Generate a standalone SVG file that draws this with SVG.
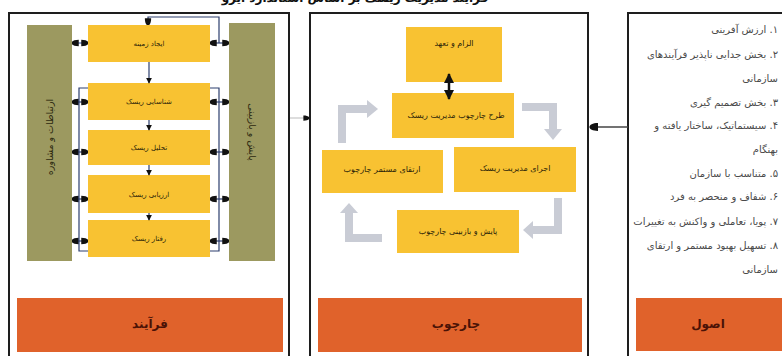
<svg xmlns="http://www.w3.org/2000/svg" width="782" height="356" viewBox="0 0 782 356">
<style>
text{font-family:"DejaVu Sans","Noto Sans",sans-serif;}
.panel{fill:#fff;stroke:#1e1e1e;stroke-width:2;}
.ybox{fill:#F8C232;}
.olive{fill:#9C9960;}
.orange{fill:#E0622B;}
.bt{font-size:7px;fill:#2a2208;text-anchor:middle;}
.mt{font-size:8px;fill:#2a2208;text-anchor:middle;}
.side{font-size:9.5px;fill:#2e2a10;text-anchor:middle;}
.foot{font-size:12px;font-weight:bold;fill:#4a1206;text-anchor:middle;}
.pr{font-size:10px;fill:#4a4a4a;text-anchor:start;}
.cn{fill:none;stroke:#2c3e6e;stroke-width:1.2;}
.gray{fill:none;stroke:#C9CCD5;stroke-width:8;}
.gh{fill:#C9CCD5;}
</style>
<defs>
<marker id="h" viewBox="0 0 8 8" refX="7.5" refY="4" markerWidth="6" markerHeight="6" orient="auto-start-reverse">
<path d="M0,0.5 C5,0.5 8,2 8,4 C8,6 5,7.5 0,7.5 Z" fill="#111"/>
</marker>
<marker id="sq" viewBox="0 0 8 8" refX="7" refY="4" markerWidth="5" markerHeight="5" orient="auto">
<path d="M0,0 L8,4 L0,8 Z" fill="#111"/>
</marker>
<marker id="ah" viewBox="0 0 10 10" refX="9" refY="5" markerWidth="4" markerHeight="4" orient="auto-start-reverse">
<path d="M0,0 L10,5 L0,10 Z" fill="#111"/>
</marker>
</defs>
<rect width="782" height="356" fill="#fff"/>
<text x="355" y="1.5" direction="rtl" style="font-size:12px;font-weight:bold;fill:#111;text-anchor:middle">فرآیند مدیریت ریسک بر اساس استاندارد ایزو</text>

<!-- Panels -->
<g id="panel-process">
<rect class="panel" x="9" y="13" width="280" height="346"/>
<rect class="orange" x="17" y="298" width="266" height="54"/>
<text class="foot" x="150" y="328" direction="rtl">فرآیند</text>
</g>
<g id="panel-framework">
<rect class="panel" x="310" y="13" width="278" height="346"/>
<rect class="orange" x="318" y="298" width="264" height="54"/>
<text class="foot" x="456" y="328" direction="rtl">چارچوب</text>
</g>
<g id="panel-principles">
<rect class="panel" x="628" y="13" width="170" height="346"/>
<rect class="orange" x="636" y="298" width="150" height="53"/>
<text class="foot" x="708" y="328" direction="rtl">اصول</text>
<g direction="rtl">
<text class="pr" x="778" y="33">۱. ارزش آفرینی</text>
<text class="pr" x="778" y="58">۲. بخش جدایی ناپذیر فرآیندهای</text>
<text class="pr" x="778" y="82">سازمانی</text>
<text class="pr" x="778" y="106">۳. بخش تصمیم گیری</text>
<text class="pr" x="778" y="129">۴. سیستماتیک، ساختار یافته و</text>
<text class="pr" x="778" y="153">بهنگام</text>
<text class="pr" x="778" y="177">۵. متناسب با سازمان</text>
<text class="pr" x="778" y="200">۶. شفاف و منحصر به فرد</text>
<text class="pr" x="778" y="225">۷. پویا، تعاملی و واکنش به تغییرات</text>
<text class="pr" x="778" y="249">۸. تسهیل بهبود مستمر و ارتقای</text>
<text class="pr" x="778" y="273">سازمانی</text>
</g>
</g>

<!-- Process nodes -->
<g id="comm">
<rect class="olive" x="27" y="25" width="45" height="236"/>
<text class="side" transform="translate(53,137) rotate(-90)" direction="rtl">ارتباطات و مشاوره</text>
</g>
<g id="monitor">
<rect class="olive" x="229" y="23" width="46" height="238"/>
<text class="side" transform="translate(249,132) rotate(90)" direction="rtl">پایش و بازبینی</text>
</g>
<g id="context">
<rect class="ybox" x="88" y="25" width="122" height="37"/>
<text class="bt" x="149" y="46" direction="rtl">ایجاد زمینه</text>
</g>
<g id="identify">
<rect class="ybox" x="88" y="83" width="122" height="37"/>
<text class="bt" x="149" y="104" direction="rtl">شناسایی ریسک</text>
</g>
<g id="analyse">
<rect class="ybox" x="88" y="130" width="122" height="35"/>
<text class="bt" x="149" y="150" direction="rtl">تحلیل ریسک</text>
</g>
<g id="evaluate">
<rect class="ybox" x="88" y="175" width="122" height="38"/>
<text class="bt" x="149" y="197" direction="rtl">ارزیابی ریسک</text>
</g>
<g id="treat">
<rect class="ybox" x="88" y="220" width="122" height="37"/>
<text class="bt" x="149" y="241" direction="rtl">رفتار ریسک</text>
</g>

<!-- Framework nodes -->
<g id="mandate">
<rect class="ybox" x="406" y="27" width="96" height="55"/>
<text class="mt" x="454" y="46" direction="rtl">الزام و تعهد</text>
</g>
<g id="design">
<rect class="ybox" x="392" y="93" width="122" height="45"/>
<text class="mt" x="456" y="118" direction="rtl">طرح چارچوب مدیریت ریسک</text>
</g>
<g id="improve">
<rect class="ybox" x="322" y="150" width="121" height="43"/>
<text class="mt" x="382" y="172" direction="rtl">ارتقای مستمر چارچوب</text>
</g>
<g id="implement">
<rect class="ybox" x="454" y="147" width="122" height="45"/>
<text class="mt" x="515" y="171" direction="rtl">اجرای مدیریت ریسک</text>
</g>
<g id="review">
<rect class="ybox" x="397" y="210" width="122" height="43"/>
<text class="mt" x="458" y="234" direction="rtl">پایش و بازبینی چارچوب</text>
</g>

<!-- Connectors -->
<g id="connectors">
<line class="cn" x1="149" y1="62" x2="149" y2="83" marker-end="url(#sq)"/>
<line class="cn" x1="149" y1="120" x2="149" y2="130" marker-end="url(#sq)"/>
<line class="cn" x1="149" y1="165" x2="149" y2="175" marker-end="url(#sq)"/>
<line class="cn" x1="149" y1="213" x2="149" y2="220" marker-end="url(#sq)"/>
<polyline class="cn" points="219,43 219,17 148,17 148,25" marker-end="url(#h)"/>
<line class="cn" x1="72" y1="43" x2="88" y2="43" marker-start="url(#h)" marker-end="url(#h)" style="stroke:#4a66b0"/>
<line class="cn" x1="72" y1="102" x2="88" y2="102" marker-start="url(#h)" marker-end="url(#h)"/>
<line class="cn" x1="72" y1="152" x2="88" y2="152" marker-start="url(#h)" marker-end="url(#h)"/>
<line class="cn" x1="72" y1="199" x2="88" y2="199" marker-start="url(#h)" marker-end="url(#h)"/>
<line class="cn" x1="72" y1="241" x2="88" y2="241" marker-start="url(#h)" marker-end="url(#h)"/>
<polyline class="cn" points="88,88 79,88 79,251 88,251"/>
<line class="cn" x1="210" y1="43" x2="229" y2="43" marker-start="url(#h)" marker-end="url(#h)"/>
<line class="cn" x1="210" y1="102" x2="229" y2="102" marker-start="url(#h)" marker-end="url(#h)"/>
<line class="cn" x1="210" y1="152" x2="229" y2="152" marker-start="url(#h)" marker-end="url(#h)"/>
<line class="cn" x1="210" y1="199" x2="229" y2="199" marker-start="url(#h)" marker-end="url(#h)"/>
<line class="cn" x1="210" y1="241" x2="229" y2="241" marker-start="url(#h)" marker-end="url(#h)"/>
<polyline class="cn" points="210,88 219,88 219,251 210,251"/>
<line x1="449" y1="74" x2="449" y2="99" stroke="#111" stroke-width="2.5" marker-start="url(#ah)" marker-end="url(#ah)"/>
<polyline class="gray" points="342,143 342,109 367,109"/>
<polygon class="gh" points="367,100 378,109 367,118"/>
<polyline class="gray" points="522,107 553,107 553,129"/>
<polygon class="gh" points="544,129 553,140 562,129"/>
<polyline class="gray" points="558,198 558,230 533,230"/>
<polygon class="gh" points="533,221 523,230 533,239"/>
<polyline class="gray" points="382,238 349,238 349,213"/>
<polygon class="gh" points="340,213 349,203 358,213"/>
<line x1="628" y1="127" x2="590" y2="127" stroke="#444" stroke-width="1.5" marker-end="url(#h)"/>
<line x1="290" y1="118" x2="309" y2="118" stroke="#bbb" stroke-width="1" marker-end="url(#h)"/>
</g>
</svg>
